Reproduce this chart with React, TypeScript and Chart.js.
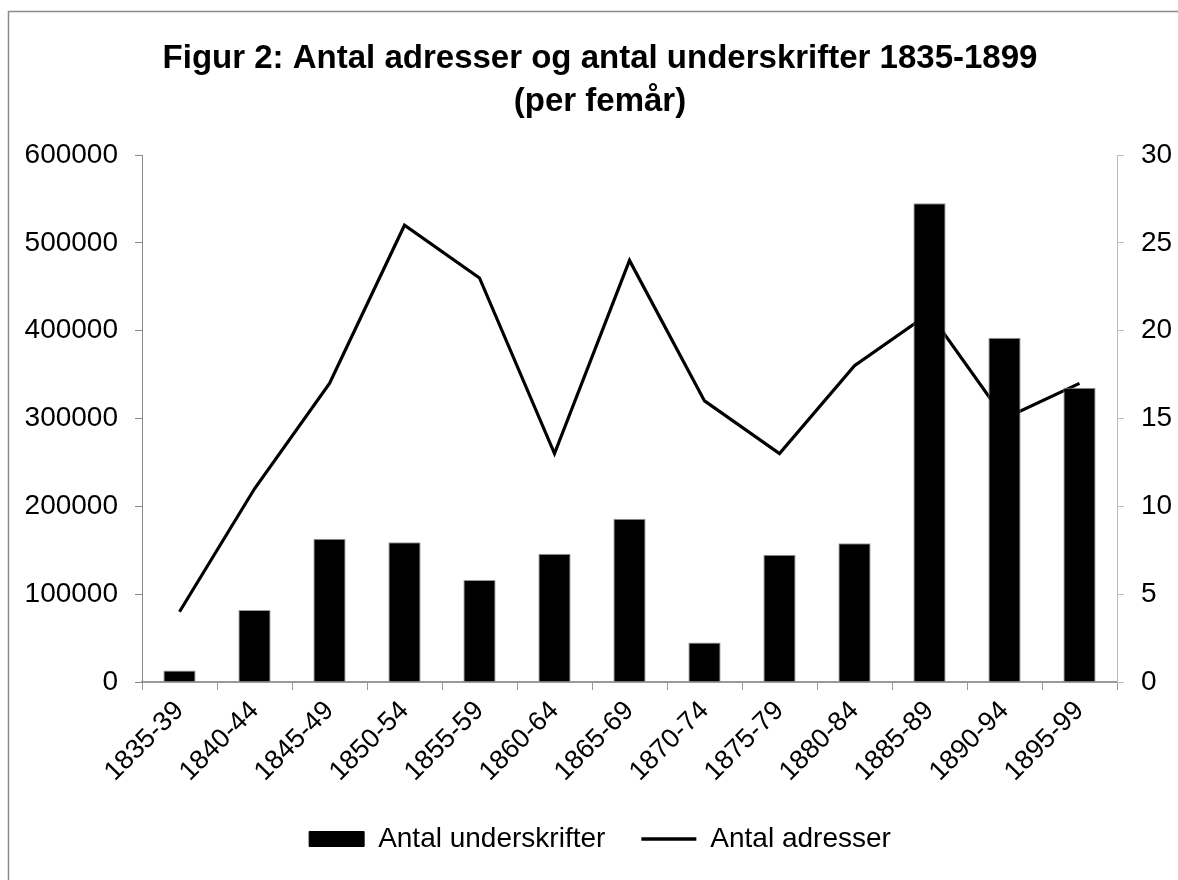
import React, { useEffect, useRef } from "react";
import { Chart, registerables } from "chart.js";

Chart.register(...registerables);

const categories = [
  "1835-39", "1840-44", "1845-49", "1850-54", "1855-59", "1860-64", "1865-69",
  "1870-74", "1875-79", "1880-84", "1885-89", "1890-94", "1895-99",
];
const underskrifter = [13000, 82000, 163000, 159000, 116000, 146000, 186000, 45000, 145000, 158000, 545000, 392000, 335000];
const adresser = [4, 11, 17, 26, 23, 13, 24, 16, 13, 18, 21, 15, 17];
const titleLines = ["Figur 2: Antal adresser og antal underskrifter 1835-1899", "(per femår)"];
const seriesNames = ["Antal underskrifter", "Antal adresser"];

const W = 1178;
const H = 880;

const framePlugin = {
  id: "frame",
  beforeDraw(chart: any) {
    const ctx = chart.ctx;
    ctx.save();
    ctx.fillStyle = "#ffffff";
    ctx.fillRect(0, 0, W, H);
    ctx.strokeStyle = "#8c8c8c";
    ctx.lineWidth = 1.5;
    ctx.beginPath();
    ctx.moveTo(8.5, H);
    ctx.lineTo(8.5, 11.5);
    ctx.lineTo(W, 11.5);
    ctx.stroke();
    ctx.restore();
  },
};

export default function App() {
  const ref = useRef<HTMLCanvasElement | null>(null);

  useEffect(() => {
    if (!ref.current) return;
    Chart.defaults.font.family = "'Liberation Sans', Arial, sans-serif";
    Chart.defaults.color = "#000";
    const chart = new Chart(ref.current, {
      type: "bar",
      data: {
        labels: categories,
        datasets: [
          {
            type: "bar",
            label: seriesNames[0],
            data: underskrifter,
            yAxisID: "y",
            backgroundColor: "#000000",
            borderColor: "#9a9a9a",
            borderWidth: 1,
            barPercentage: 0.43,
            categoryPercentage: 1,
            order: 1,
          } as any,
          {
            type: "line",
            label: seriesNames[1],
            data: adresser,
            yAxisID: "y1",
            borderColor: "#000000",
            backgroundColor: "#000000",
            borderWidth: 3.2,
            pointRadius: 0,
            tension: 0,
            fill: false,
            order: 2,
          } as any,
        ],
      },
      options: {
        animation: false,
        responsive: false,
        devicePixelRatio: 1,
        events: [],
        layout: { padding: { left: 22, right: 0, top: 0, bottom: 17 } },
        plugins: {
          tooltip: { enabled: false },
          title: {
            display: true,
            text: titleLines,
            color: "#000",
            font: { size: 33, weight: "bold", lineHeight: 1.3 },
            padding: { top: 37.5, bottom: 31.7 },
          },
          legend: {
            position: "bottom",
            labels: {
              usePointStyle: true,
              pointStyleWidth: 55,
              boxHeight: 15,
              padding: 36,
              color: "#000",
              font: { size: 28 },
              generateLabels: (c: any) => {
                const items = (Chart.defaults.plugins.legend.labels as any).generateLabels(c);
                return items.map((it: any) => {
                  const ds = c.data.datasets[it.datasetIndex];
                  if (ds.type === "line") {
                    it.pointStyle = "line";
                    it.lineWidth = 3.5;
                    it.strokeStyle = "#000";
                  } else {
                    it.pointStyle = "rect";
                    it.fillStyle = "#000";
                    it.strokeStyle = "#000";
                    it.lineWidth = 1;
                  }
                  return it;
                });
              },
            },
          },
        },
        scales: {
          x: {
            type: "category",
            offset: true,
            grid: { offset: true, drawOnChartArea: false, drawTicks: true, tickLength: 8, color: "#999", lineWidth: 1 },
            border: { display: true, color: "#9a9a9a", width: 2 },
            ticks: { maxRotation: 45, minRotation: 45, autoSkip: false, color: "#000", font: { size: 27 }, padding: 5 },
            afterFit: (s: any) => { s.height = 107; },
          },
          y: {
            position: "left",
            min: 0,
            max: 600000,
            grid: { drawOnChartArea: false, tickLength: 7, color: "#888" },
            border: { display: true, color: "#888", width: 1 },
            ticks: { stepSize: 100000, padding: 17, color: "#000", font: { size: 28 }, callback: (v: any) => String(v) },
            afterFit: (s: any) => { s.width = 120; },
          },
          y1: {
            position: "right",
            min: 0,
            max: 30,
            grid: { drawOnChartArea: false, tickLength: 7, color: "#bbb" },
            border: { display: true, color: "#bbb", width: 1 },
            ticks: { stepSize: 5, padding: 17, color: "#000", font: { size: 28 }, callback: (v: any) => String(v) },
            afterFit: (s: any) => { s.width = 61; },
          },
        },
      } as any,
      plugins: [framePlugin],
    });
    return () => chart.destroy();
  }, []);

  return (
    <canvas
      ref={ref}
      width={W}
      height={H}
      style={{ position: "absolute", left: 0, top: 0, width: W, height: H }}
    />
  );
}
